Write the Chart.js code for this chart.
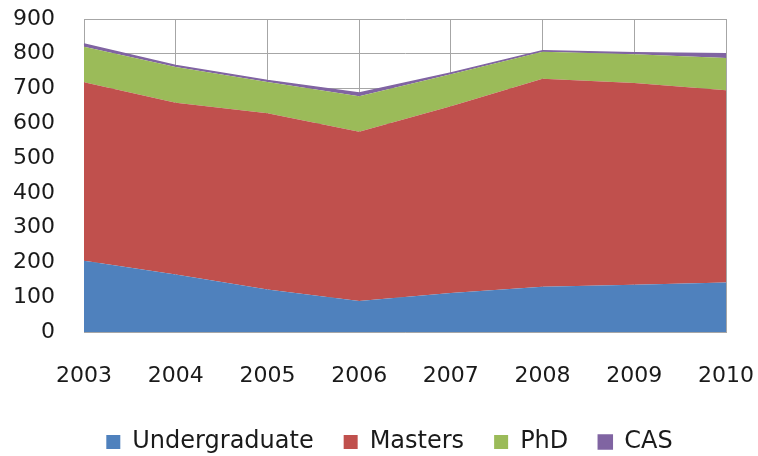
<!DOCTYPE html>
<html lang="en">
<head>
<meta charset="UTF-8"/>
<title>Enrollment by level, 2003–2010</title>
<script src="https://cdn.jsdelivr.net/npm/chart.js@4/dist/chart.umd.min.js"></script>
<style>
  *{box-sizing:border-box;margin:0;padding:0}
  html,body{background:#fff;width:758px;height:456px;overflow:hidden}
  .wrap{position:relative;width:758px;height:456px}
</style>
</head>
<body>
<div class="wrap"><canvas id="chart" width="758" height="456"></canvas></div>

<script>
// ── Data ────────────────────────────────────────────────────────────────────
const years         = ['2003','2004','2005','2006','2007','2008','2009','2010'];
const undergraduate = [205, 165, 122, 89, 112, 130, 136, 142];
const masters       = [513, 494, 507, 487, 537, 598, 580, 553];
const phd           = [102, 103,  90, 102,  92,  78,  83,  93];
const cas           = [  8,   4,   4,   9,   4,   3,   4,  12];
const yTicks        = [0, 100, 200, 300, 400, 500, 600, 700, 800, 900];

const FONT = 'DejaVu Sans';
const GRID = '#a6a6a6';

// nudge the legend so it sits where the original one does
const legendShift = {
  id: 'legendShift',
  afterLayout(chart) {
    chart.legend.left += 20;
    chart.legend.right += 20;
  }
};

const area = (label, data, color, fill, border) => ({
  label, data,
  backgroundColor: color,
  borderColor: color,
  borderWidth: border,
  fill,
  pointRadius: 0,
  pointHoverRadius: 0,
  tension: 0,
});

new Chart(document.getElementById('chart'), {
  type: 'line',
  data: {
    labels: years,
    datasets: [
      area('Undergraduate', undergraduate, '#4f81bd', 'origin', 0),
      area('Masters',       masters,       '#c0504d', '-1', 0),
      area('PhD',           phd,           '#9bbb59', '-1', 0),
      area('CAS',           cas,           '#8064a2', '-1', 1.5),
    ]
  },
  plugins: [legendShift],
  options: {
    responsive: false,
    animation: false,
    events: [],
    layout: { padding: { left: 13, right: 32, top: 19, bottom: -8 } },
    plugins: {
      tooltip: { enabled: false },
      legend: {
        position: 'bottom',
        labels: {
          boxWidth: 14, boxHeight: 14, padding: 30,
          color: '#1a1a1a',
          font: { family: FONT, size: 24 },
        }
      }
    },
    scales: {
      x: {
        offset: false,
        grid: { color: GRID, lineWidth: 1, tickLength: 0, drawTicks: false },
        border: { color: GRID, width: 1 },
        ticks: { color: '#1a1a1a', padding: 31, maxRotation: 0, autoSkip: false,
                 font: { family: FONT, size: 22 } },
        afterFit(scale) {
          scale.height = 68;
          scale.paddingLeft = 0;
          scale.paddingRight = 0;
        }
      },
      y: {
        stacked: true,
        min: yTicks[0], max: yTicks[yTicks.length - 1],
        afterBuildTicks(scale) { scale.ticks = yTicks.map(v => ({ value: v })); },
        grid: { color: GRID, lineWidth: 1, tickLength: 0, drawTicks: false },
        border: { color: GRID, width: 1 },
        ticks: { color: '#1a1a1a', padding: 29, font: { family: FONT, size: 22 } },
        afterFit(scale) {
          scale.width = 71;
          scale.paddingTop = 0;
          scale.paddingBottom = 0;
        }
      }
    }
  }
});
</script>
</body>
</html>
